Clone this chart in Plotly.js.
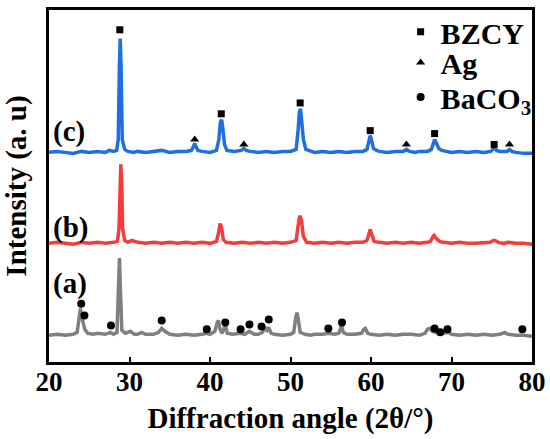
<!DOCTYPE html>
<html>
<head>
<meta charset="utf-8">
<script src="https://cdn.plot.ly/plotly-3.0.1.min.js"></script>
<style>html,body{margin:0;padding:0;background:#fff;}#chart{width:550px;height:439px;}</style>
</head>
<body>
<div id="chart"></div>
<script>
// (c) blue trace
const xC = [20,21,22,23,24,25,26,27,27.5,28,28.4,28.6,28.75,28.85,28.95,29.1,29.4,29.8,30.5,31,32,33,34,35,36,37,37.7,37.95,38.1,38.25,38.5,39,40,40.8,41.1,41.3,41.45,41.6,41.8,42.1,43,43.9,44.2,44.5,45,46,47,48,49,50,50.7,50.95,51.1,51.25,51.4,51.6,51.9,52.5,53,54,55,56,57,58,59,59.5,59.75,59.9,60.05,60.3,60.7,61,62,63,64,64.4,64.8,65.5,66,67,67.5,67.75,67.9,68.1,68.4,68.8,69.5,70,71,72,73,74,74.9,75.2,75.35,75.6,76,76.9,77.2,77.5,78,79,80];
const yC = [212,213,212,211,213,212,213,212,214,213,214,225,300,327,300,225,215,213,212,213,212,213,214,212,213,213,214,218,221,218,214,213,212,214,225,243,245,236,220,214,213,214,216,214,213,212,213,212,213,213,215,235,253,256,245,225,215,213,212,213,212,213,212,213,213,215,224,229,225,216,214,213,212,213,213,215,213,212,213,213,215,221,225,222,216,214,213,212,213,212,213,212,213,216,217,214,213,213,215,213,212,211,211];
// (b) red trace
const xB = [20,21,22,23,24,25,26,27,28,28.5,28.7,28.82,28.92,29.02,29.15,29.4,29.8,30.3,31,32,33,34,35,36,37,38,39,40,40.8,41.05,41.25,41.45,41.65,42,43,44,45,46,47,48,49,50,50.7,50.95,51.15,51.35,51.6,52,53,54,55,56,57,58,59,59.5,59.75,59.9,60.1,60.4,61,62,63,64,65,66,67,67.4,67.7,67.85,68.1,68.5,69,70,71,72,73,74,74.8,75.2,75.4,75.8,76.5,77,78,79,80];
const yB = [120,121,120,119,121,120,121,120,121,122,135,185,200,185,135,123,121,123,121,120,121,120,121,120,121,120,121,120,122,130,140,136,124,121,120,121,120,121,120,121,120,121,123,138,148,144,127,121,120,121,120,121,120,121,121,123,131,134,129,122,121,120,121,120,121,120,121,122,127,128,125,122,121,120,121,120,120,121,121,123,123,121,120,121,120,120,119];
// (a) gray trace
const xA = [20,21,22,23,23.5,23.75,23.9,24.05,24.25,24.45,24.8,25.5,26,27,27.6,28,28.45,28.62,28.75,28.88,29.05,29.5,30.1,30.6,31,31.5,32,33,33.6,34,34.4,35,36,37,38,39,39.6,40,40.6,40.9,41.05,41.25,41.5,41.8,41.95,42.15,42.8,43.8,44.3,44.9,45.5,46,46.5,46.9,47.1,47.3,47.6,48,49,50,50.4,50.65,50.8,50.95,51.2,51.8,52.5,53,54,54.7,55.5,56,56.2,56.35,56.55,57,58,58.8,59.1,59.3,59.6,60,61,62,63,64,65,66,66.7,67,67.3,67.6,68,68.6,69,69.6,70,71,72,73,74,75,76,76.6,77,78,79,80];
const yA = [27,28,27,28,30,42,54,46,40,33,29,28,29,28,30,28,30,70,105,72,32,29,31,28,28,30,28,28,30,34,31,28,27,28,27,28,29,28,31,40,42,33,29,35,36,29,28,29,28,31,28,28,30,34,32,35,29,28,27,28,30,45,50,44,30,28,27,28,28,29,28,29,35,37,30,28,28,29,33,34,29,28,27,28,27,28,28,27,29,33,34,31,30,31,29,30,28,27,28,27,28,27,28,30,28,27,27,26];
// phase markers
const bzcyX = [28.8,41.4,51.2,59.9,67.9,75.3];
const bzcyY = [336,251,262,234,231,220];
const agX = [38.1,44.2,64.4,77.2];
const agY = [225,220,220,220];
const bacoX = [24.0,24.4,27.7,34.0,39.6,41.9,43.8,44.9,46.4,47.3,54.7,56.4,67.9,68.6,69.5,78.8];
const bacoY = [59,47,37,42,33,40,33,38,36,43,34,40,34,30,33,33];
const sampleLabels = ['(c)','(b)','(a)'];
const tickVals = [20,30,40,50,60,70,80];

const FONT = 'Liberation Serif, Times New Roman, serif';
const lineTrace = (x,y,c) => ({x:x,y:y,type:'scatter',mode:'lines',line:{color:c,width:3.5},showlegend:false,hoverinfo:'skip'});
const data = [
  lineTrace(xA,yA,'#7f7f7f'),
  lineTrace(xB,yB,'#f43c3c'),
  lineTrace(xC,yC,'#1f6fe0'),
  {x:bzcyX,y:bzcyY,type:'scatter',mode:'markers',name:'BZCY',legend:'legend',marker:{symbol:'square',size:7,color:'#000'}},
  {x:agX,y:agY,type:'scatter',mode:'markers',name:'Ag',legend:'legend2',marker:{symbol:'triangle-up',size:8,color:'#000'}},
  {x:bacoX,y:bacoY,type:'scatter',mode:'markers',name:'BaCO<sub>3</sub>',legend:'legend3',marker:{symbol:'circle',size:8,color:'#000'}}
];
const legFont = {family:FONT,size:30,weight:'bold',color:'#000'};
const mkLeg = (y) => ({x:0.728,y:y,xanchor:'left',yanchor:'middle',bgcolor:'rgba(0,0,0,0)',borderwidth:0,font:legFont,itemwidth:30});
const labY = [0.654,0.382,0.222];
const layout = {
  width:550,height:439,
  margin:{l:49,r:18,t:6,b:77},
  paper_bgcolor:'#fff',plot_bgcolor:'#fff',
  font:{family:FONT,color:'#000'},
  showlegend:true,
  legend:mkLeg(0.938),
  legend2:mkLeg(0.851),
  legend3:mkLeg(0.753),
  xaxis:{range:[20,80],tickvals:tickVals,ticks:'inside',ticklen:5,tickwidth:2,tickcolor:'#000',
         showline:true,linewidth:3,linecolor:'#000',mirror:true,showgrid:false,zeroline:false,
         ticklabelstandoff:-6,
         tickfont:{family:FONT,size:27,weight:'bold',color:'#000'},
         title:{text:'Diffraction angle (2θ/°)',font:{family:FONT,size:29,weight:'bold',color:'#000'},standoff:12}},
  yaxis:{range:[0,356],showticklabels:false,ticks:'',showline:true,linewidth:3,linecolor:'#000',mirror:true,
         showgrid:false,zeroline:false,
         title:{text:'Intensity (a. u)',font:{family:FONT,size:29,weight:'bold',color:'#000'},standoff:12}},
  annotations: sampleLabels.map((t,i)=>({text:t,xref:'paper',yref:'paper',x:0.004,y:labY[i],xanchor:'left',yanchor:'middle',
         showarrow:false,font:{family:FONT,size:29,weight:'bold',color:'#000'}}))
};
Plotly.newPlot('chart',data,layout,{displayModeBar:false,staticPlot:true});
</script>
</body>
</html>
